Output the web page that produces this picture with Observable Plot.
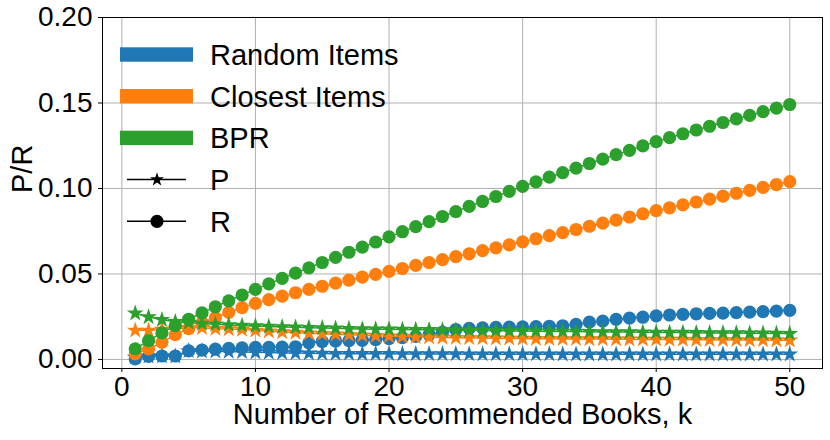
<!DOCTYPE html>
<html><head><meta charset="utf-8">
<script src="https://cdn.jsdelivr.net/npm/d3@7"></script>
<script src="https://cdn.jsdelivr.net/npm/@observablehq/plot@0.6"></script>
<style>
body{margin:0;background:#fff;}
#fig{position:relative;width:830px;height:440px;font-family:"Liberation Sans",Arial,sans-serif;}
#legend{position:absolute;left:0;top:0;pointer-events:none;}
</style></head><body><div id="fig"></div>
<script>
const ks = d3.range(1, 51);
const methods = ["Random Items", "Closest Items", "BPR"];
const colors = ["#1f77b4", "#ff7f0e", "#2ca02c"];
const metrics = ["P", "R"];
const xTicks = [0, 10, 20, 30, 40, 50];
const yTicks = [0, 0.05, 0.10, 0.15, 0.20];
const xLabel = "Number of Recommended Books, k";
const yLabel = "P/R";

const randomP = [0.0012,0.0018,0.0018,0.0018,0.005,0.0048,0.0047,0.0046,0.0044,0.0042,
 0.004,0.0038,0.0037,0.0036,0.0035,0.0034,0.0034,0.0033,0.0033,0.0033,
 0.0032,0.0032,0.0032,0.0032,0.0032,0.0031,0.0031,0.0031,0.0031,0.0031,
 0.0031,0.0031,0.003,0.003,0.003,0.003,0.003,0.003,0.003,0.003,
 0.003,0.003,0.003,0.003,0.003,0.003,0.003,0.003,0.003,0.003];
const randomR = [0.0003,0.0018,0.002,0.002,0.005,0.0055,0.006,0.0065,0.0068,0.007,
 0.0071,0.0072,0.0074,0.0097,0.0105,0.0108,0.011,0.0112,0.0116,0.0122,
 0.0128,0.0135,0.0145,0.016,0.0175,0.0182,0.0185,0.0187,0.0189,0.019,
 0.0192,0.0194,0.0197,0.0205,0.0218,0.0224,0.0234,0.0242,0.0247,0.0255,
 0.026,0.0264,0.0267,0.0269,0.0271,0.0274,0.0277,0.028,0.0283,0.0287];
const closestP = [0.017,0.017,0.0175,0.018,0.0185,0.0185,0.018,0.0178,0.0175,0.017,
 0.0165,0.016,0.0157,0.0153,0.015,0.0147,0.0144,0.0141,0.0138,0.0136,
 0.0134,0.0132,0.013,0.0128,0.0127,0.0126,0.0125,0.0124,0.0123,0.0122,
 0.0121,0.0121,0.012,0.012,0.0119,0.0119,0.0118,0.0118,0.0117,0.0117,
 0.0116,0.0116,0.0115,0.0115,0.0114,0.0114,0.0113,0.0113,0.0112,0.0112];
const closestR = [0.0033,0.0062,0.01,0.0145,0.018,0.0215,0.0245,0.0275,0.0303,0.0328,
 0.035,0.037,0.039,0.041,0.0428,0.0446,0.0464,0.0481,0.0498,0.0515,
 0.0532,0.055,0.0567,0.0584,0.0601,0.0618,0.0636,0.0653,0.067,0.0688,
 0.0706,0.0724,0.0742,0.076,0.0779,0.0797,0.0815,0.0833,0.0852,0.087,
 0.0887,0.0904,0.0921,0.0938,0.0955,0.0972,0.0989,0.1006,0.1023,0.104];
const bprP = [0.027,0.0248,0.0232,0.022,0.0215,0.021,0.0206,0.0202,0.0198,0.0195,
 0.0192,0.019,0.0188,0.0186,0.0184,0.0182,0.018,0.0178,0.0177,0.0176,
 0.0175,0.0174,0.0173,0.0172,0.0171,0.017,0.0169,0.0168,0.0167,0.0166,
 0.0165,0.0164,0.0164,0.0163,0.0162,0.0161,0.016,0.016,0.0159,0.0158,
 0.0157,0.0157,0.0156,0.0155,0.0155,0.0154,0.0153,0.0153,0.0152,0.0151];
const bprR = [0.0062,0.011,0.0155,0.0198,0.0235,0.0272,0.0308,0.0343,0.0377,0.041,
 0.0442,0.0474,0.0505,0.0536,0.0567,0.0597,0.0627,0.0657,0.0687,0.0717,
 0.0747,0.0777,0.0806,0.0836,0.0865,0.0895,0.0924,0.0953,0.0983,0.1012,
 0.1039,0.1066,0.1093,0.1119,0.1146,0.1172,0.1198,0.1223,0.1249,0.1274,
 0.1297,0.132,0.1342,0.1364,0.1386,0.1407,0.1428,0.1449,0.147,0.1491];

const seriesValues = [[randomP, randomR], [closestP, closestR], [bprP, bprR]];

const STAR_R = 5.3, CIRCLE_R = 6.6, LEGEND_STAR_R = 4.4;
const FONT = '"Liberation Sans", Arial, sans-serif';

const seriesMarks = [];
methods.forEach((m, i) => {
  metrics.forEach((met, j) => {
    const rows = ks.map((k, idx) => ({k, v: seriesValues[i][j][idx], method: m}));
    seriesMarks.push(Plot.line(rows, {x: "k", y: "v", stroke: "method", strokeWidth: 1.5}));
    seriesMarks.push(Plot.dot(rows, {
      x: "k", y: "v", fill: "method", stroke: "none",
      symbol: met === "P" ? "star" : "circle",
      r: met === "P" ? STAR_R : CIRCLE_R
    }));
  });
});

const chart = Plot.plot({
  width: 830, height: 440,
  marginLeft: 102, marginRight: 8, marginTop: 17, marginBottom: 72,
  style: {fontFamily: FONT, fontSize: "28px", background: "white", color: "black", overflow: "visible"},
  x: {domain: [-1.45, 52.45]},
  y: {domain: [-0.0053, 0.2]},
  color: {domain: methods, range: colors},
  symbol: {legend: false},
  marks: [
    Plot.gridX(xTicks, {stroke: "#b0b0b0", strokeOpacity: 1, strokeWidth: 1}),
    Plot.gridY(yTicks, {stroke: "#b0b0b0", strokeOpacity: 1, strokeWidth: 1}),
    ...seriesMarks,
    Plot.frame({stroke: "black", strokeWidth: 1}),
    Plot.axisX({ticks: xTicks, tickSize: 4, tickPadding: 4, label: null, fontSize: 28}),
    Plot.axisY({ticks: yTicks, tickFormat: d3.format(".2f"), tickSize: 4, tickPadding: 6, label: null, fontSize: 28}),
    Plot.text([xLabel], {text: d => d, frameAnchor: "bottom", dy: 55, fontSize: 29}),
    Plot.text([yLabel], {text: d => d, frameAnchor: "left", dx: -80, rotate: -90, fontSize: 29})
  ]
});
const fig = document.getElementById("fig");
fig.appendChild(chart);

// Legend overlay
const legendItems = [
  {label: methods[0], kind: "bar", color: colors[0]},
  {label: methods[1], kind: "bar", color: colors[1]},
  {label: methods[2], kind: "bar", color: colors[2]},
  {label: metrics[0], kind: "star", color: "black"},
  {label: metrics[1], kind: "circle", color: "black"}
];
const lg = d3.select(fig).append("svg").attr("id", "legend").attr("width", 830).attr("height", 440);
const y0 = 54.5, step = 41.7;
legendItems.forEach((it, i) => {
  const cy = y0 + i * step;
  const g = lg.append("g");
  if (it.kind === "bar") {
    g.append("rect").attr("x", 120).attr("y", cy - 7.2).attr("width", 73).attr("height", 14.4).attr("fill", it.color);
  } else {
    g.append("line").attr("x1", 127).attr("x2", 186).attr("y1", cy).attr("y2", cy).attr("stroke", "black").attr("stroke-width", 1.5);
    if (it.kind === "star") {
      g.append("path").attr("transform", `translate(157,${cy})`)
        .attr("d", d3.symbol(d3.symbolStar, Math.PI * LEGEND_STAR_R * LEGEND_STAR_R)()).attr("fill", "black");
    } else {
      g.append("circle").attr("cx", 157).attr("cy", cy).attr("r", CIRCLE_R).attr("fill", "black");
    }
  }
  g.append("text").attr("x", 210).attr("y", cy + 10.5)
    .attr("font-family", FONT).attr("font-size", 29).attr("fill", "black").text(it.label);
});
</script></body></html>
